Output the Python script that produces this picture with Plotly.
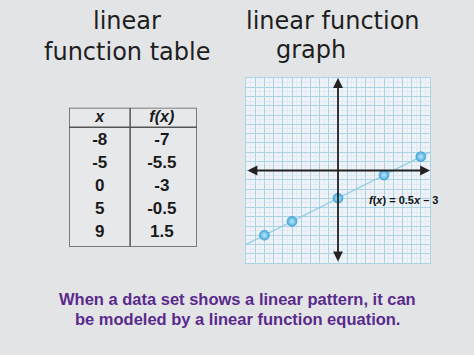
import plotly.graph_objects as go

# ---- data ----
table_x = ["-8", "-5", "0", "5", "9"]
table_fx = ["-7", "-5.5", "-3", "-0.5", "1.5"]
point_x = [-8, -5, 0, 5, 9]
point_y = [-7, -5.5, -3, -0.5, 1.5]
line_x = [-10, 10]
line_y = [-8, 2]
header = ["x", "f(x)"]
equation = "<b><i>f</i>(<i>x</i>) = 0.5<i>x</i> – 3</b>"
titles_left = ["linear", "function table"]
titles_right = ["linear function", "graph"]
caption = ["When a data set shows a linear pattern, it can",
           "be modeled by a linear function equation."]

W, H = 474, 355
BG = "#e3e4e6"
fig = go.Figure()

# ---- graph ----
fig.add_trace(go.Scatter(x=line_x, y=line_y, mode="lines",
                         line=dict(color="#8ecbe6", width=1.3),
                         xaxis="x", yaxis="y", hoverinfo="skip", showlegend=False))
fig.add_trace(go.Scatter(x=point_x, y=point_y, mode="markers",
                         marker=dict(size=10, color="#45a9dd",
                                     gradient=dict(type="radial", color="#bde9fc"),
                                     line=dict(color="#3a98cc", width=0.5)),
                         xaxis="x", yaxis="y", showlegend=False))

# ---- table text (second axis pair) ----
rows = list(range(len(table_x)))
tfont = dict(family="Liberation Sans, Arial", size=17, color="#1a1a1a")
fig.add_trace(go.Scatter(x=[0.48] * len(rows), y=rows, text=[f"<b>{v}</b>" for v in table_x],
                         mode="text", textfont=tfont,
                         xaxis="x2", yaxis="y2", showlegend=False, hoverinfo="skip"))
fig.add_trace(go.Scatter(x=[1.45] * len(rows), y=rows, text=[f"<b>{v}</b>" for v in table_fx],
                         mode="text", textfont=tfont,
                         xaxis="x2", yaxis="y2", showlegend=False, hoverinfo="skip"))
fig.add_trace(go.Scatter(x=[0.48, 1.45], y=[-1, -1], text=[f"<b><i>{h}</i></b>" for h in header],
                         mode="text", textfont=dict(family="Liberation Sans, Arial", size=16, color="#1a1a1a"),
                         xaxis="x2", yaxis="y2", showlegend=False, hoverinfo="skip"))

shapes = [
    dict(type="rect", xref="x2", yref="y2", x0=0, x1=2, y0=-1.435, y1=4.61,
         line=dict(color="#555", width=1.5), fillcolor="#e7e8ea", layer="below"),
    dict(type="line", xref="x2", yref="y2", x0=0.955, x1=0.955, y0=-1.435, y1=4.61,
         line=dict(color="#555", width=1.5)),
    dict(type="line", xref="x2", yref="y2", x0=0, x1=2, y0=-0.58, y1=-0.58,
         line=dict(color="#555", width=1.5)),
]

annotations = [
    # axes with arrows
    dict(x=10, y=0, ax=-10, ay=0, xref="x", yref="y", axref="x", ayref="y",
         showarrow=True, arrowhead=2, arrowside="end+start", arrowsize=1.1,
         arrowwidth=1.8, arrowcolor="#222", text=""),
    dict(x=0, y=10, ax=0, ay=-10, xref="x", yref="y", axref="x", ayref="y",
         showarrow=True, arrowhead=2, arrowside="end+start", arrowsize=1.1,
         arrowwidth=1.8, arrowcolor="#222", text=""),
    dict(x=3.1, y=-3.15, xref="x", yref="y", text=equation, showarrow=False,
         xanchor="left", yanchor="middle",
         font=dict(family="Liberation Sans, Arial", size=11, color="#111")),
]

title_font = dict(family="DejaVu Sans", size=24, color="#1e1e1e")
for txt, xp, yp in [(titles_left[0], 127, 21), (titles_left[1], 127, 52),
                    (titles_right[0], 333, 21), (titles_right[1], 311, 50)]:
    annotations.append(dict(x=xp / W, y=1 - yp / H, xref="paper", yref="paper",
                            text=txt, showarrow=False, xanchor="center", yanchor="middle",
                            borderpad=0, font=title_font))
for txt, yp in [(caption[0], 299), (caption[1], 319)]:
    annotations.append(dict(x=0.5, y=1 - yp / H, xref="paper", yref="paper",
                            text=f"<b>{txt}</b>", showarrow=False, xanchor="center", yanchor="middle",
                            font=dict(family="Liberation Sans, Arial", size=16.5, color="#5a2a8c")))

x0g, x1g, y0g, y1g = 246, 430, 78, 263
fig.update_layout(
    width=W, height=H, margin=dict(l=0, r=0, t=0, b=0),
    paper_bgcolor=BG, plot_bgcolor="#eff3f7",
    xaxis=dict(domain=[x0g / W, x1g / W], range=[-10, 10], dtick=1, showticklabels=False,
               gridcolor="#aad3e3", gridwidth=1, zeroline=False, fixedrange=True,
               minor=dict(dtick=0.5, showgrid=True, gridcolor="#e3ebf2", gridwidth=1),
               showline=True, linecolor="#aad3e3", mirror=True),
    yaxis=dict(domain=[1 - y1g / H, 1 - y0g / H], range=[-10, 10], dtick=1, showticklabels=False,
               gridcolor="#aad3e3", gridwidth=1, zeroline=False, fixedrange=True,
               minor=dict(dtick=0.5, showgrid=True, gridcolor="#e3ebf2", gridwidth=1),
               showline=True, linecolor="#aad3e3", mirror=True),
    xaxis2=dict(domain=[69 / W, 197 / W], range=[0, 2], visible=False, fixedrange=True),
    yaxis2=dict(domain=[1 - 246.7 / H, 1 - 107.7 / H], range=[4.61, -1.435], visible=False,
                fixedrange=True, anchor="x2"),
    shapes=shapes, annotations=annotations,
)
fig.write_html("out.html")
